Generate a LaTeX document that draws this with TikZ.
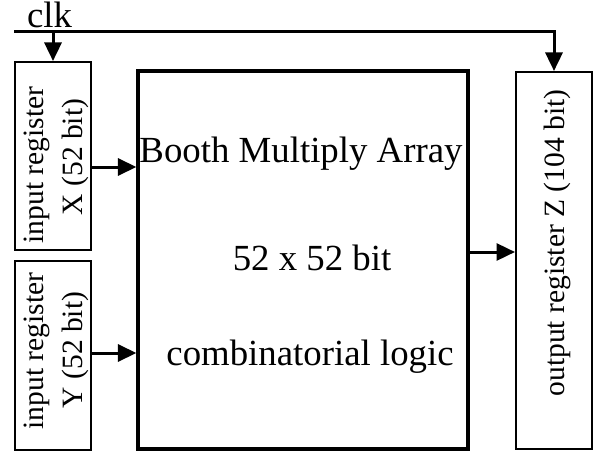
\documentclass[tikz,border=0pt]{standalone}
\usepackage{fontspec}
\setmainfont{Liberation Serif}
\usetikzlibrary{arrows.meta}
\begin{document}
\begin{tikzpicture}[x=1pt,y=-1pt,
  regbox/.style={draw, line width=2pt, inner sep=0pt, minimum width=76pt},
  mainbox/.style={draw, line width=3.2pt, inner sep=0pt},
  bigtxt/.style={font=\fontsize{36.8}{44}\selectfont, inner sep=0pt, anchor=base},
  rottxt/.style={font=\fontsize{29.5}{35}\selectfont, inner sep=0pt, anchor=base, rotate=90},
  wire/.style={line width=3pt},
  arr/.style={line width=3pt, -{Triangle[length=18.5pt,width=17pt]}}]
\useasboundingbox (0,0) rectangle (599,452);
% boxes
\node[regbox, minimum height=188pt] (X) at (53,156) {};
\node[regbox, minimum height=189pt] (Y) at (53,355.5) {};
\node[mainbox, minimum width=330pt, minimum height=378pt] (M) at (303,260) {};
\node[regbox, minimum height=377pt] (O) at (554,260.5) {};
% texts
\node[bigtxt] (clk) at (49.5,28) {clk};
\node[rottxt] (x1) at (43,165) {input register};
\node[rottxt] (x2) at (82,157) {X (52 bit)};
\node[rottxt] (y1) at (43,351) {input register};
\node[rottxt] (y2) at (82,350) {Y (52 bit)};
\node[rottxt] (z1) at (564,243) {output register Z (104 bit)};
\node[bigtxt] (m1) at (301,162) {Booth Multiply Array};
\node[bigtxt] (m2) at (312,270) {52 x 52 bit};
\node[bigtxt] (m3) at (310,365) {combinatorial logic};
% clock
\coordinate (clkL) at (14,32);
\draw[arr] (clkL) -| (O.north);
\draw[arr] (X.north |- clkL) -- (X.north);
% data arrows
\coordinate (xa) at (0,167);
\coordinate (ya) at (0,353);
\coordinate (za) at (0,252);
\draw[arr] (X.east |- xa) -- (M.west |- xa);
\draw[arr] (Y.east |- ya) -- (M.west |- ya);
\draw[arr] (M.east |- za) -- (O.west |- za);
\end{tikzpicture}
\end{document}
